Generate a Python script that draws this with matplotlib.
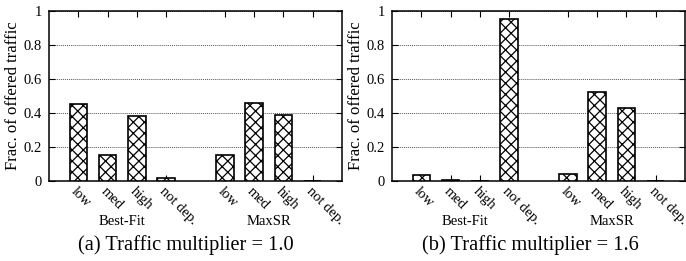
import matplotlib.pyplot as plt

plt.rcParams['font.family'] = ['Liberation Serif', 'DejaVu Serif']
plt.rcParams['hatch.linewidth'] = 0.9

categories = ['low', 'med', 'high', 'not dep.']
groups = ['Best-Fit', 'MaxSR']

# traffic multiplier = 1.0
bf_10 = [0.45, 0.155, 0.38, 0.015]
msr_10 = [0.15, 0.46, 0.39, 0.0]
# traffic multiplier = 1.6
bf_16 = [0.035, 0.008, 0.0, 0.955]
msr_16 = [0.04, 0.525, 0.43, 0.002]

captions = ['(a) Traffic multiplier = 1.0', '(b) Traffic multiplier = 1.6']

fig = plt.figure(figsize=(6.86, 2.61), dpi=100)

pos = [1, 2, 3, 4, 6, 7, 8, 9]
lefts = [49 / 686, 392 / 686]
cap_x = [186 / 686, 530 / 686]
data = [(bf_10, msr_10), (bf_16, msr_16)]

for k in range(2):
    ax = fig.add_axes([lefts[k], 0.3065, 293 / 686, 0.6515])
    vals = data[k][0] + data[k][1]
    ax.bar(pos, vals, width=0.6, color='white', edgecolor='black',
           linewidth=1.2, hatch='xxx', zorder=3)
    ax.set_xlim(0, 10)
    ax.set_ylim(0, 1)
    ax.set_yticks([0, 0.2, 0.4, 0.6, 0.8, 1])
    ax.set_yticklabels(['0', '0.2', '0.4', '0.6', '0.8', '1'])
    ax.yaxis.grid(True, linestyle=(0, (1, 1)), color='#555555', linewidth=0.7)
    ax.set_xticks(pos)
    ax.set_xticklabels(categories * 2, rotation=-45, ha='left', va='top',
                       rotation_mode='anchor', fontsize=10.5)
    ax.tick_params(axis='x', direction='in', top=True, bottom=True, length=4, pad=3)
    ax.tick_params(axis='y', direction='in', left=True, right=True, length=4,
                   labelsize=10.5, pad=5)
    for s in ax.spines.values():
        s.set_linewidth(1.1)
    ax.set_ylabel('Frac. of offered traffic', fontsize=12)
    ax.yaxis.set_label_coords(-0.095, 0.5)
    ax.text(2.5, -0.24, groups[0], ha='center', va='center', fontsize=10.5)
    ax.text(7.5, -0.24, groups[1], ha='center', va='center', fontsize=10.5)
    fig.text(cap_x[k], 1 - 245 / 261, captions[k], ha='center',
             va='center', fontsize=14.7)

fig.savefig('out.png', dpi=100)
